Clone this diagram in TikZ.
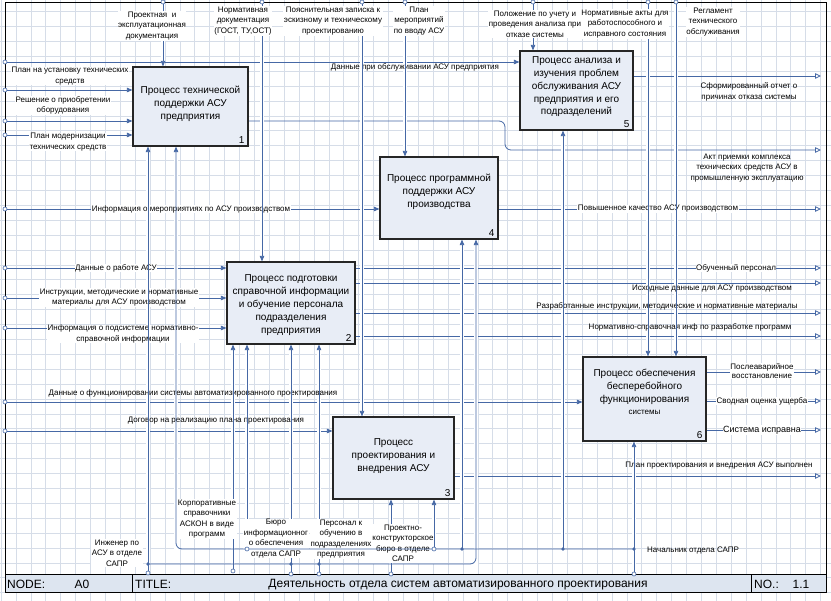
\documentclass[tikz,border=0pt]{standalone}
\usepackage{fontspec}
\setmainfont{Liberation Sans}
\usetikzlibrary{arrows.meta,calc}
\definecolor{arrc}{RGB}{70,104,165}
\definecolor{gridc}{RGB}{214,221,232}
\definecolor{boxfill}{RGB}{232,237,246}
\definecolor{barfill}{RGB}{221,229,240}
\pgfdeclarelayer{fg}
\pgfsetlayers{main,fg}
\begin{document}
\begin{tikzpicture}[x=1pt,y=-1pt,
  arr/.style={draw=arrc, line width=0.8pt, -{Triangle[length=5.5pt,width=4.5pt]}},
  outarr/.style={draw=arrc, line width=0.8pt, -{Triangle[open,length=6pt,width=5.5pt,fill=white]}},
  halo/.style={draw=white, line width=3.5pt},
  box/.style={draw=black!85, line width=1.2pt, fill=boxfill, inner sep=0pt},
  btxt/.style={font=\fontsize{10}{12.8}\selectfont, align=center, inner sep=0pt},
  num/.style={font=\fontsize{10}{12}\selectfont, inner sep=0pt},
  lbl/.style={font=\fontsize{8}{10.5}\selectfont, align=center, fill=white, inner sep=0.5pt},
  lblnf/.style={font=\fontsize{8}{10.5}\selectfont, align=center, inner sep=0.5pt},
  tun/.style={draw=arrc, fill=white, line width=0.6pt},
  bar/.style={font=\fontsize{12}{14}\selectfont, inner sep=0pt},
]
\useasboundingbox (0,0) rectangle (831,601);
\fill[white] (0,0) rectangle (831,601);
% grid
\foreach \i in {0,...,55} {\draw[gridc, line width=0.5pt] ({1+14.9*\i},0) -- ({1+14.9*\i},601);}
\foreach \j in {1,...,40} {\draw[gridc, line width=0.5pt] (0,{-3.4+14.9*\j}) -- (831,{-3.4+14.9*\j});}

% boxes (foreground layer)
\begin{pgfonlayer}{fg}
\node[box, minimum width=115pt, minimum height=79pt] (b1) at (190.5,106.5) {};
\node[box, minimum width=113pt, minimum height=79pt] (b5) at (576.5,90.5) {};
\node[box, minimum width=118pt, minimum height=82pt] (b4) at (439,198) {};
\node[box, minimum width=128pt, minimum height=82pt] (b2) at (291,303) {};
\node[box, minimum width=121pt, minimum height=82pt] (b3) at (393.5,458) {};
\node[box, minimum width=123pt, minimum height=84pt] (b6) at (644.5,399) {};
\node[btxt] (t1) at (190.5,104) {Процесс технической\\поддержки АСУ\\предприятия};
\node[btxt] (t5) at (576.5,87) {Процесс анализа и\\изучения проблем\\обслуживания АСУ\\предприятия и его\\подразделений};
\node[btxt] (t4) at (439,192) {Процесс программной\\поддержки АСУ\\производства};
\node[btxt] (t2) at (291,305) {Процесс подготовки\\справочной информации\\и обучение персонала\\подразделения\\предприятия};
\node[btxt] (t3) at (393.5,456) {Процесс\\проектирования и\\внедрения АСУ};
\node[btxt] (t6) at (644.5,392) {Процесс обеспечения\\бесперебойного\\функционирования\\{\fontsize{8}{10}\selectfont системы}};
\node[num, anchor=south east] (n1) at ([xshift=-4pt,yshift=3pt]b1.south east) {1};
\node[num, anchor=south east] (n5) at ([xshift=-4pt,yshift=3pt]b5.south east) {5};
\node[num, anchor=south east] (n4) at ([xshift=-4pt,yshift=3pt]b4.south east) {4};
\node[num, anchor=south east] (n2) at ([xshift=-4pt,yshift=3pt]b2.south east) {2};
\node[num, anchor=south east] (n3) at ([xshift=-4pt,yshift=3pt]b3.south east) {3};
\node[num, anchor=south east] (n6) at ([xshift=-4pt,yshift=3pt]b6.south east) {6};
\end{pgfonlayer}

% coordinates
\coordinate (c1) at (163,2);  \coordinate (c2) at (262,2);  \coordinate (c3) at (362,2);
\coordinate (c4) at (405,2);  \coordinate (c5) at (533,2);  \coordinate (c6) at (648,2);
\coordinate (c7) at (676,2);
\coordinate (iL1) at (5,62);  \coordinate (iL2) at (5,90);  \coordinate (iL3) at (5,121);
\coordinate (iL4) at (5,135); \coordinate (iL5) at (5,209); \coordinate (iL6) at (5,268);
\coordinate (iL7) at (5,298); \coordinate (iL8) at (5,328); \coordinate (iL9) at (5,402);
\coordinate (iL10) at (5,431);
\coordinate (oR1) at (821,76);  \coordinate (oR2) at (821,150); \coordinate (o2k) at (505,121);
\coordinate (oR3) at (821,209); \coordinate (oR4) at (821,268); \coordinate (oR5) at (821,283);
\coordinate (oR6) at (821,313); \coordinate (oR7) at (821,336); \coordinate (oR8) at (821,372);
\coordinate (oR9) at (821,401); \coordinate (oR10) at (821,430); \coordinate (oR11) at (821,476);
\coordinate (m1) at (148,573); \coordinate (m2) at (233,571); \coordinate (m3) at (291,574);
\coordinate (m4) at (319,574); \coordinate (m5) at (391,574); \coordinate (m6) at (634,574);
\coordinate (j1) at (148,564); \coordinate (k476) at (476,564);
\coordinate (j2) at (634,549); \coordinate (k176) at (176,549);
\coordinate (n247) at (247,549); \coordinate (n434) at (434,549);
\coordinate (n462) at (462,549); \coordinate (n563) at (563,549);
\coordinate (d291) at (291,564); \coordinate (d319) at (319,564);

% horizontal inputs
\draw[arr] (iL1) -- (iL1 -| b5.west);
\draw[arr] (iL2) -- (iL2 -| b1.west);
\draw[arr] (iL3) -- (iL3 -| b1.west);
\draw[arr] (iL4) -- (iL4 -| b1.west);
\draw[arr] (iL5) -- (iL5 -| b4.west);
\draw[arr] (iL6) -- (iL6 -| b2.west);
\draw[arr] (iL7) -- (iL7 -| b2.west);
\draw[arr] (iL8) -- (iL8 -| b2.west);
\draw[arr] (iL9) -- (iL9 -| b6.west);
\draw[arr] (iL10) -- (iL10 -| b3.west);
% outputs
\draw[outarr] (oR1 -| b5.east) -- (oR1);
\draw[outarr, rounded corners=6pt] (o2k -| b1.east) -- (o2k) -- (o2k |- oR2) -- (oR2);
\draw[outarr] (oR3 -| b4.east) -- (oR3);
\draw[outarr] (oR4 -| b2.east) -- (oR4);
\draw[outarr] (oR5 -| b2.east) -- (oR5);
\draw[outarr] (oR6 -| b2.east) -- (oR6);
\draw[outarr] (oR7 -| b2.east) -- (oR7);
\draw[outarr] (oR8 -| b6.east) -- (oR8);
\draw[outarr] (oR9 -| b6.east) -- (oR9);
\draw[outarr] (oR10 -| b6.east) -- (oR10);
\draw[outarr] (oR11 -| b3.east) -- (oR11);

% vertical halos (gaps in crossing horizontals)
\def\myvlist{c1/b1.north,c2/b2.north,c3/b3.north,c4/b4.north,c5/b5.north,c6/b6.north,c7/b6.north,m1/b1.south,m2/b2.south,m3/b2.south,m4/b2.south,m5/b3.south,m6/b6.south,n247/b2.south,n434/b3.south,n462/b4.south,n563/b5.south}
\foreach \a/\b in \myvlist {\draw[halo] (\a) -- (\a |- \b);}
\draw[halo] (k176) -- (k176 |- b1.south);
\draw[halo] (k476) -- (k476 |- b4.south);

% labels of horizontal arrows
\node[lblnf] (li1) at (415,67.5) {Данные при обслуживании АСУ предприятия};
\node[lbl] (li2) at (70,76) {План на установку технических\\средств};
\node[lbl] (li3) at (63,105.5) {Решение о приобретении\\оборудования};
\node[lbl] (li4) at (68,142) {План модернизации\\технических средств};
\node[lbl] (li5) at (191,209) {Информация о мероприятиях по АСУ производством};
\node[lbl] (li6) at (116,268) {Данные о работе АСУ};
\node[lbl] (li7) at (119,297.5) {Инструкции, методические и нормативные\\материалы для АСУ производством};
\node[lbl] (li8) at (123,334) {Информация о подсистеме нормативно-\\справочной информации};
\node[lblnf] (li9) at (193,393) {Данные о функционировании системы автоматизированного проектирования};
\node[lblnf] (li10) at (216,421) {Договор на реализацию плана проектирования};
\node[lblnf] (lo1) at (749,92) {Сформированный отчет о\\причинах отказа системы};
\node[lblnf] (lo2) at (747,168) {Акт приемки комплекса\\технических средств АСУ в\\промышленную эксплуатацию};
\node[lbl] (lo3) at (658,209) {Повышенное качество АСУ производством};
\node[lbl] (lo4) at (736,268) {Обученный персонал};
\node[lblnf] (lo5) at (712,288.5) {Исходные данные для АСУ производством};
\node[lblnf] (lo6) at (667,306) {Разработанные инструкции, методические и нормативные материалы};
\node[lblnf] (lo7) at (690,327) {Нормативно-справочная инф по разработке программ};
\node[lbl, font=\fontsize{8}{9.5}\selectfont] (lo8) at (762,371) {Послеаварийное\\восстановление};
\node[lbl] (lo9) at (762,401) {Сводная оценка ущерба};
\node[lbl, font=\fontsize{9}{11}\selectfont] (lo10) at (762,430) {Система исправна};
\node[lblnf] (lo11) at (719,466) {План проектирования и внедрения АСУ выполнен};

% vertical arrows
\foreach \a/\b in \myvlist {\draw[arr] (\a) -- (\a |- \b);}

% labels of vertical arrows
\node[lbl] (lt1) at (152,26) {Проектная \ и\\эксплуатационная\\документация};
\node[lbl] (lt2) at (243,21) {Нормативная\\документация\\(ГОСТ, ТУ,ОСТ)};
\node[lbl] (lt3) at (333,21) {Пояснительная записка к\\эскизному и техническому\\проектированию};
\node[lbl] (lt4) at (419,21) {План\\мероприятий\\по вводу АСУ};
\node[lbl] (lt5) at (535,24) {Положение по учету и\\проведения анализа при\\отказе системы};
\node[lbl] (lt6) at (625,24) {Нормативные акты для\\работоспособного и\\исправного состояния};
\node[lbl] (lt7) at (713,22) {Регламент\\технического\\обслуживания};
\node[lbl] (lb1) at (117,553) {Инженер по\\АСУ в отделе\\САПР};
\node[lbl] (lb2) at (207,519) {Корпоративные\\справочники\\АСКОН в виде\\программ};
\node[lbl] (lb3) at (276,538.5) {Бюро\\информационног\\о обеспечения\\отдела САПР};
\node[lbl] (lb4) at (341,539) {Персонал к\\обучению в\\подразделениях\\предприятия};
\node[lbl] (lb5) at (403,543.5) {Проектно-\\конструкторское\\бюро в отделе\\САПР};
\node[lblnf] (lb6) at (693,551) {Начальник отдела САПР};

% mechanism nets
\draw[arr, rounded corners=6pt] (j1) -- (k476) -- (k476 |- b4.south);
\draw[arr, rounded corners=6pt] (j2) -- (k176) -- (k176 |- b1.south);

\begin{pgfonlayer}{fg}
% frame and bottom bar
\draw[black, line width=1pt] (5,3) rectangle (826,593);
\draw[black, line width=1pt, fill=barfill] (5,575) rectangle (826,593);
\draw[black, line width=1pt] (132,575) -- (132,593);
\draw[black, line width=1pt] (751,575) -- (751,593);
\node[bar, anchor=west] (tnode) at (7,584.5) {NODE:};
\node[bar] (tnum) at (82,584.5) {A0};
\node[bar, anchor=west] (ttitle) at (135,584.5) {TITLE:};
\node[bar] (tname) at (458,584.5) {Деятельность отдела систем автоматизированного проектирования};
\node[bar, anchor=west] (tno) at (754,584.5) {NO.:};
\node[bar] (tnov) at (801,584.5) {1.1};
% tunnels / ends
\foreach \p in {c1,c2,c3,c4,c5,c6,c7,iL1,iL2,iL3,iL4,iL5,iL6,iL7,iL8,iL9,iL10,m1,m2,m3,m4,m5,m6,n247,n434}
  {\draw[tun] (\p) circle (2pt);}
\foreach \p in {j1,d291,d319,j2,n462,n563}
  {\fill[arrc] (\p) circle (1.8pt);}
\end{pgfonlayer}
\end{tikzpicture}
\end{document}
